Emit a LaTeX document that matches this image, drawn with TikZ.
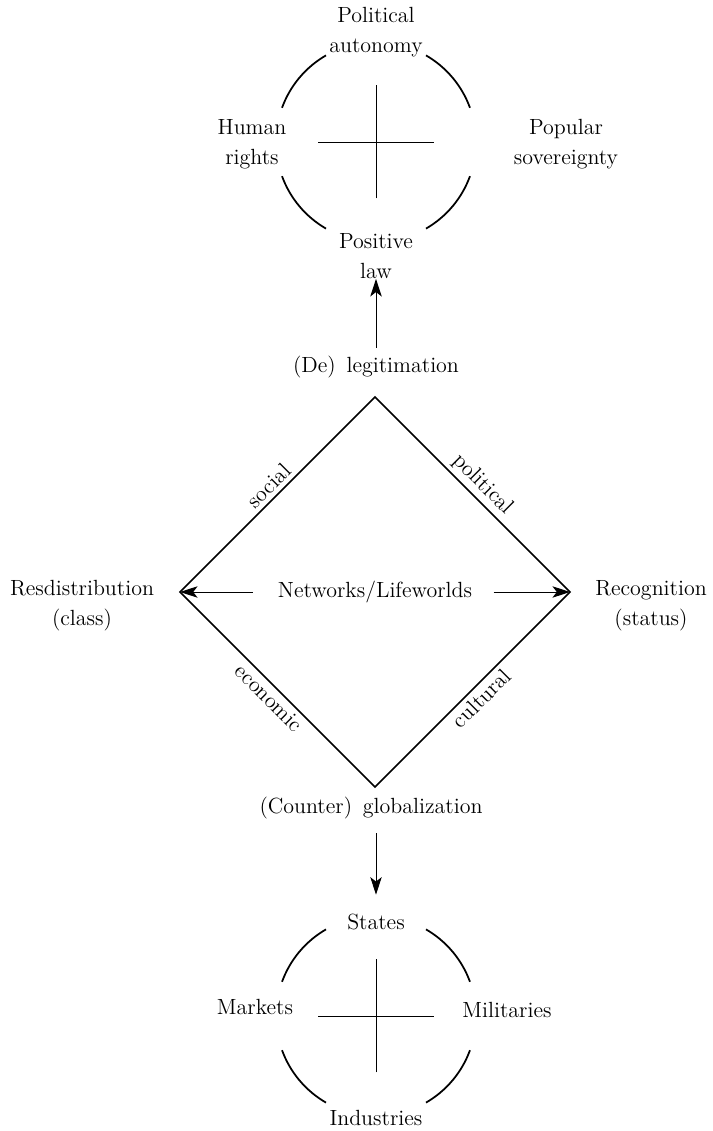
\documentclass[tikz,border=0pt]{standalone}
\usetikzlibrary{arrows.meta}
\tikzset{
  term/.style = {align=center, inner sep=0pt, text centered,
    font=\fontsize{12.5}{17}\selectfont},
  side/.style = {term, sloped, inner sep=2.5pt},
  rim/.style = {line width=1pt},
  hair/.style = {line width=0.55pt},
  frame/.style = {line width=0.9pt, line join=miter},
}

\begin{document}
\begin{tikzpicture}[>={Stealth[length=10pt,width=6.5pt,inset=2.5pt]}]
\useasboundingbox (0,0) rectangle (14.26,22.62);

% legitimation wheel
\coordinate (tc) at (7.52,19.78);
\draw[rim] ([shift={(20:2)}]tc) arc (20:60:2);
\draw[rim] ([shift={(120:2)}]tc) arc (120:160:2);
\draw[rim] ([shift={(200:2)}]tc) arc (200:240:2);
\draw[rim] ([shift={(300:2)}]tc) arc (300:340:2);
\draw[hair] ([xshift=-1.16cm]tc) -- ([xshift=1.16cm]tc);
\draw[hair] ([yshift=-1.13cm]tc) -- ([yshift=1.13cm]tc);
\node[term] (polaut) at (7.52,21.98) {Political\\autonomy};
\node[term] (human) at (5.04,19.74) {Human\\rights};
\node[term] (popsov) at (11.32,19.74) {Popular\\sovereignty};
\node[term] (poslaw) at (7.52,17.5) {Positive\\law};

\node[term] (legit) at (7.52,15.28) {(De)\, legitimation};
\draw[->, hair, shorten <=4.5pt] (legit) -- (poslaw);

% diamond
\coordinate (dt) at (7.5,14.68);
\coordinate (dl) at (3.6,10.78);
\coordinate (dr) at (11.4,10.78);
\coordinate (db) at (7.5,6.88);
\draw[frame] (dl) -- (dt) -- (dr) -- (db) -- cycle;
\path (dl) -- node[side, above] {social} (dt);
\path (dt) -- node[side, above] {political} (dr);
\path (dl) -- node[side, below] {economic} (db);
\path (db) -- node[side, below] {cultural} (dr);

\node[term] (net) at (7.5,10.78) {Networks/Lifeworlds};
\draw[->, hair, shorten <=14pt] (net) -- (dl);
\draw[->, hair, shorten <=12pt] (net) -- (dr);
\node[term] (redist) at (1.64,10.5) {Resdistribution\\(class)};
\node[term] (recog) at (13.02,10.5) {Recognition\\(status)};

\node[term] (glob) at (7.42,6.46) {(Counter)\, globalization};
\node[term] (states) at (7.52,4.18) {States};
\draw[->, hair, shorten <=8pt, shorten >=10.8pt] (glob.south -| states) -- (states);

% globalization wheel
\coordinate (bc) at (7.52,2.3);
\draw[rim] ([shift={(20:2)}]bc) arc (20:60:2);
\draw[rim] ([shift={(120:2)}]bc) arc (120:160:2);
\draw[rim] ([shift={(200:2)}]bc) arc (200:240:2);
\draw[rim] ([shift={(300:2)}]bc) arc (300:340:2);
\draw[hair] ([xshift=-1.16cm]bc) -- ([xshift=1.16cm]bc);
\draw[hair] ([yshift=-1.13cm]bc) -- ([yshift=1.13cm]bc);
\node[term] (markets) at (5.1,2.48) {Markets};
\node[term] (milit) at (10.14,2.42) {Militaries};
\node[term] (indus) at (7.52,0.26) {Industries};
\end{tikzpicture}
\end{document}
